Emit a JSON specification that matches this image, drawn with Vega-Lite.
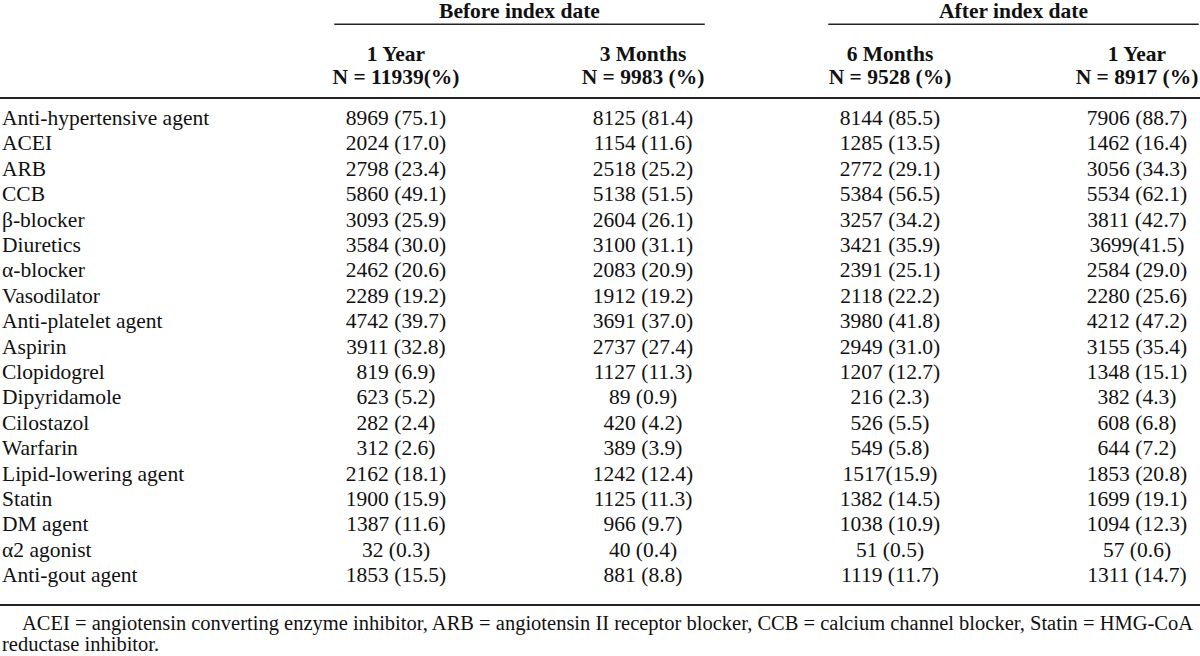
{
  "$schema": "https://vega.github.io/schema/vega-lite/v6.json",
  "width": 1200,
  "height": 656,
  "autosize": {"type": "none"},
  "padding": 0,
  "background": "white",
  "config": {
    "view": {"stroke": null},
    "text": {"font": "Liberation Serif", "fontSize": 21.5, "color": "#111111"},
    "rule": {"color": "#222222"}
  },
  "datasets": {
    "table": [
      {"drug": "Anti-hypertensive agent", "b1y": "8969 (75.1)", "b3m": "8125 (81.4)", "a6m": "8144 (85.5)", "a1y": "7906 (88.7)"},
      {"drug": "ACEI", "b1y": "2024 (17.0)", "b3m": "1154 (11.6)", "a6m": "1285 (13.5)", "a1y": "1462 (16.4)"},
      {"drug": "ARB", "b1y": "2798 (23.4)", "b3m": "2518 (25.2)", "a6m": "2772 (29.1)", "a1y": "3056 (34.3)"},
      {"drug": "CCB", "b1y": "5860 (49.1)", "b3m": "5138 (51.5)", "a6m": "5384 (56.5)", "a1y": "5534 (62.1)"},
      {"drug": "β-blocker", "b1y": "3093 (25.9)", "b3m": "2604 (26.1)", "a6m": "3257 (34.2)", "a1y": "3811 (42.7)"},
      {"drug": "Diuretics", "b1y": "3584 (30.0)", "b3m": "3100 (31.1)", "a6m": "3421 (35.9)", "a1y": "3699(41.5)"},
      {"drug": "α-blocker", "b1y": "2462 (20.6)", "b3m": "2083 (20.9)", "a6m": "2391 (25.1)", "a1y": "2584 (29.0)"},
      {"drug": "Vasodilator", "b1y": "2289 (19.2)", "b3m": "1912 (19.2)", "a6m": "2118 (22.2)", "a1y": "2280 (25.6)"},
      {"drug": "Anti-platelet agent", "b1y": "4742 (39.7)", "b3m": "3691 (37.0)", "a6m": "3980 (41.8)", "a1y": "4212 (47.2)"},
      {"drug": "Aspirin", "b1y": "3911 (32.8)", "b3m": "2737 (27.4)", "a6m": "2949 (31.0)", "a1y": "3155 (35.4)"},
      {"drug": "Clopidogrel", "b1y": "819 (6.9)", "b3m": "1127 (11.3)", "a6m": "1207 (12.7)", "a1y": "1348 (15.1)"},
      {"drug": "Dipyridamole", "b1y": "623 (5.2)", "b3m": "89 (0.9)", "a6m": "216 (2.3)", "a1y": "382 (4.3)"},
      {"drug": "Cilostazol", "b1y": "282 (2.4)", "b3m": "420 (4.2)", "a6m": "526 (5.5)", "a1y": "608 (6.8)"},
      {"drug": "Warfarin", "b1y": "312 (2.6)", "b3m": "389 (3.9)", "a6m": "549 (5.8)", "a1y": "644 (7.2)"},
      {"drug": "Lipid-lowering agent", "b1y": "2162 (18.1)", "b3m": "1242 (12.4)", "a6m": "1517(15.9)", "a1y": "1853 (20.8)"},
      {"drug": "Statin", "b1y": "1900 (15.9)", "b3m": "1125 (11.3)", "a6m": "1382 (14.5)", "a1y": "1699 (19.1)"},
      {"drug": "DM agent", "b1y": "1387 (11.6)", "b3m": "966 (9.7)", "a6m": "1038 (10.9)", "a1y": "1094 (12.3)"},
      {"drug": "α2 agonist", "b1y": "32 (0.3)", "b3m": "40 (0.4)", "a6m": "51 (0.5)", "a1y": "57 (0.6)"},
      {"drug": "Anti-gout agent", "b1y": "1853 (15.5)", "b3m": "881 (8.8)", "a6m": "1119 (11.7)", "a1y": "1311 (14.7)"}
    ],
    "colheads": [
      {"col": "b1y", "period": "1 Year", "n": "N = 11939(%)"},
      {"col": "b3m", "period": "3 Months", "n": "N = 9983 (%)"},
      {"col": "a6m", "period": "6 Months", "n": "N = 9528 (%)"},
      {"col": "a1y", "period": "1 Year", "n": "N = 8917 (%)"}
    ],
    "groups": [
      {"col": "bmid", "group": "Before index date"},
      {"col": "amid", "group": "After index date"}
    ],
    "notes": [
      {"line": "1", "note": "ACEI = angiotensin converting enzyme inhibitor, ARB = angiotensin II receptor blocker, CCB = calcium channel blocker, Statin = HMG-CoA"},
      {"line": "2", "note": "reductase inhibitor."}
    ],
    "one": [{}]
  },
  "resolve": {"scale": {"x": "independent", "y": "independent"}},
  "layer": [
    {
      "data": {"name": "table"},
      "transform": [{"fold": ["b1y", "b3m", "a6m", "a1y"], "as": ["period", "value"]}],
      "mark": {"type": "text", "align": "center", "baseline": "alphabetic"},
      "encoding": {
        "x": {"field": "period", "type": "nominal", "axis": null,
              "scale": {"type": "point", "padding": 0, "range": [334.25, 1198.75],
                        "domain": ["bs", "b1y", "x2", "bmid", "x4", "b3m", "be", "x7", "as", "a6m", "x10", "amid", "x12", "a1y", "ae"]}},
        "y": {"field": "drug", "type": "nominal", "axis": null, "sort": null,
              "scale": {"type": "point", "padding": 0, "range": [125, 582.2],
                        "domain": ["Anti-hypertensive agent", "ACEI", "ARB", "CCB", "β-blocker", "Diuretics", "α-blocker", "Vasodilator", "Anti-platelet agent", "Aspirin", "Clopidogrel", "Dipyridamole", "Cilostazol", "Warfarin", "Lipid-lowering agent", "Statin", "DM agent", "α2 agonist", "Anti-gout agent"]}},
        "text": {"field": "value", "type": "nominal"}
      }
    },
    {
      "data": {"name": "table"},
      "mark": {"type": "text", "align": "left", "baseline": "alphabetic"},
      "encoding": {
        "x": {"datum": "label", "type": "nominal", "axis": null,
              "scale": {"type": "point", "padding": 0, "range": [2, 1200], "domain": ["label", "end"]}},
        "y": {"field": "drug", "type": "nominal", "axis": null, "sort": null,
              "scale": {"type": "point", "padding": 0, "range": [125, 582.2],
                        "domain": ["Anti-hypertensive agent", "ACEI", "ARB", "CCB", "β-blocker", "Diuretics", "α-blocker", "Vasodilator", "Anti-platelet agent", "Aspirin", "Clopidogrel", "Dipyridamole", "Cilostazol", "Warfarin", "Lipid-lowering agent", "Statin", "DM agent", "α2 agonist", "Anti-gout agent"]}},
        "text": {"field": "drug", "type": "nominal"}
      }
    },
    {
      "data": {"name": "colheads"},
      "mark": {"type": "text", "align": "center", "baseline": "alphabetic", "fontWeight": "bold"},
      "encoding": {
        "x": {"field": "col", "type": "nominal", "axis": null,
              "scale": {"type": "point", "padding": 0, "range": [334.25, 1198.75],
                        "domain": ["bs", "b1y", "x2", "bmid", "x4", "b3m", "be", "x7", "as", "a6m", "x10", "amid", "x12", "a1y", "ae"]}},
        "y": {"datum": "cols", "type": "nominal", "axis": null,
              "scale": {"type": "point", "padding": 0, "range": [60.5, 83.5],
                        "domain": ["cols", "ncount"]}},
        "text": {"field": "period", "type": "nominal"}
      }
    },
    {
      "data": {"name": "colheads"},
      "mark": {"type": "text", "align": "center", "baseline": "alphabetic", "fontWeight": "bold"},
      "encoding": {
        "x": {"field": "col", "type": "nominal", "axis": null,
              "scale": {"type": "point", "padding": 0, "range": [334.25, 1198.75],
                        "domain": ["bs", "b1y", "x2", "bmid", "x4", "b3m", "be", "x7", "as", "a6m", "x10", "amid", "x12", "a1y", "ae"]}},
        "y": {"datum": "ncount", "type": "nominal", "axis": null,
              "scale": {"type": "point", "padding": 0, "range": [60.5, 83.5],
                        "domain": ["cols", "ncount"]}},
        "text": {"field": "n", "type": "nominal"}
      }
    },
    {
      "data": {"name": "groups"},
      "mark": {"type": "text", "align": "center", "baseline": "middle", "fontWeight": "bold"},
      "encoding": {
        "x": {"field": "col", "type": "nominal", "axis": null,
              "scale": {"type": "point", "padding": 0, "range": [334.25, 1198.75],
                        "domain": ["bs", "b1y", "x2", "bmid", "x4", "b3m", "be", "x7", "as", "a6m", "x10", "amid", "x12", "a1y", "ae"]}},
        "y": {"datum": "group", "type": "nominal", "axis": null,
              "scale": {"type": "point", "padding": 0, "range": [12, 98.1],
                        "domain": ["group", "gline", "h2", "h3", "cols", "h5", "h6", "hrule"]}},
        "text": {"field": "group", "type": "nominal"}
      }
    },
    {
      "data": {"name": "one"},
      "mark": {"type": "rule", "strokeWidth": 1.5},
      "encoding": {
        "x": {"datum": "bs", "type": "nominal", "axis": null,
              "scale": {"type": "point", "padding": 0, "range": [334.25, 1198.75],
                        "domain": ["bs", "b1y", "x2", "bmid", "x4", "b3m", "be", "x7", "as", "a6m", "x10", "amid", "x12", "a1y", "ae"]}},
        "x2": {"datum": "be"},
        "y": {"datum": "gline", "type": "nominal", "axis": null,
              "scale": {"type": "point", "padding": 0, "range": [12, 98.1],
                        "domain": ["group", "gline", "h2", "h3", "cols", "h5", "h6", "hrule"]}}
      }
    },
    {
      "data": {"name": "one"},
      "mark": {"type": "rule", "strokeWidth": 1.5},
      "encoding": {
        "x": {"datum": "as", "type": "nominal", "axis": null,
              "scale": {"type": "point", "padding": 0, "range": [334.25, 1198.75],
                        "domain": ["bs", "b1y", "x2", "bmid", "x4", "b3m", "be", "x7", "as", "a6m", "x10", "amid", "x12", "a1y", "ae"]}},
        "x2": {"datum": "ae"},
        "y": {"datum": "gline", "type": "nominal", "axis": null,
              "scale": {"type": "point", "padding": 0, "range": [12, 98.1],
                        "domain": ["group", "gline", "h2", "h3", "cols", "h5", "h6", "hrule"]}}
      }
    },
    {
      "data": {"name": "one"},
      "mark": {"type": "rule", "strokeWidth": 2},
      "encoding": {
        "x": {"datum": "l", "type": "nominal", "axis": null,
              "scale": {"type": "point", "padding": 0, "range": [0, 1200], "domain": ["l", "r"]}},
        "x2": {"datum": "r"},
        "y": {"datum": "hrule", "type": "nominal", "axis": null,
              "scale": {"type": "point", "padding": 0, "range": [12, 98.1],
                        "domain": ["group", "gline", "h2", "h3", "cols", "h5", "h6", "hrule"]}}
      }
    },
    {
      "data": {"name": "one"},
      "mark": {"type": "rule", "strokeWidth": 2},
      "encoding": {
        "x": {"datum": "l", "type": "nominal", "axis": null,
              "scale": {"type": "point", "padding": 0, "range": [0, 1200], "domain": ["l", "r"]}},
        "x2": {"datum": "r"},
        "y": {"datum": "brule", "type": "nominal", "axis": null,
              "scale": {"type": "point", "padding": 0, "range": [605, 651], "domain": ["brule", "fa", "f1", "fb", "f2"]}}
      }
    },
    {
      "data": {"name": "notes"},
      "mark": {"type": "text", "align": "left", "baseline": "alphabetic", "fontSize": 20.5},
      "encoding": {
        "x": {"field": "line", "type": "nominal", "axis": null,
              "scale": {"type": "point", "padding": 0, "range": [22, 2], "domain": ["1", "2"]}},
        "y": {"field": "line", "type": "nominal", "axis": null,
              "scale": {"type": "point", "padding": 0, "range": [630, 651], "domain": ["1", "2"]}},
        "text": {"field": "note", "type": "nominal"}
      }
    }
  ]
}
